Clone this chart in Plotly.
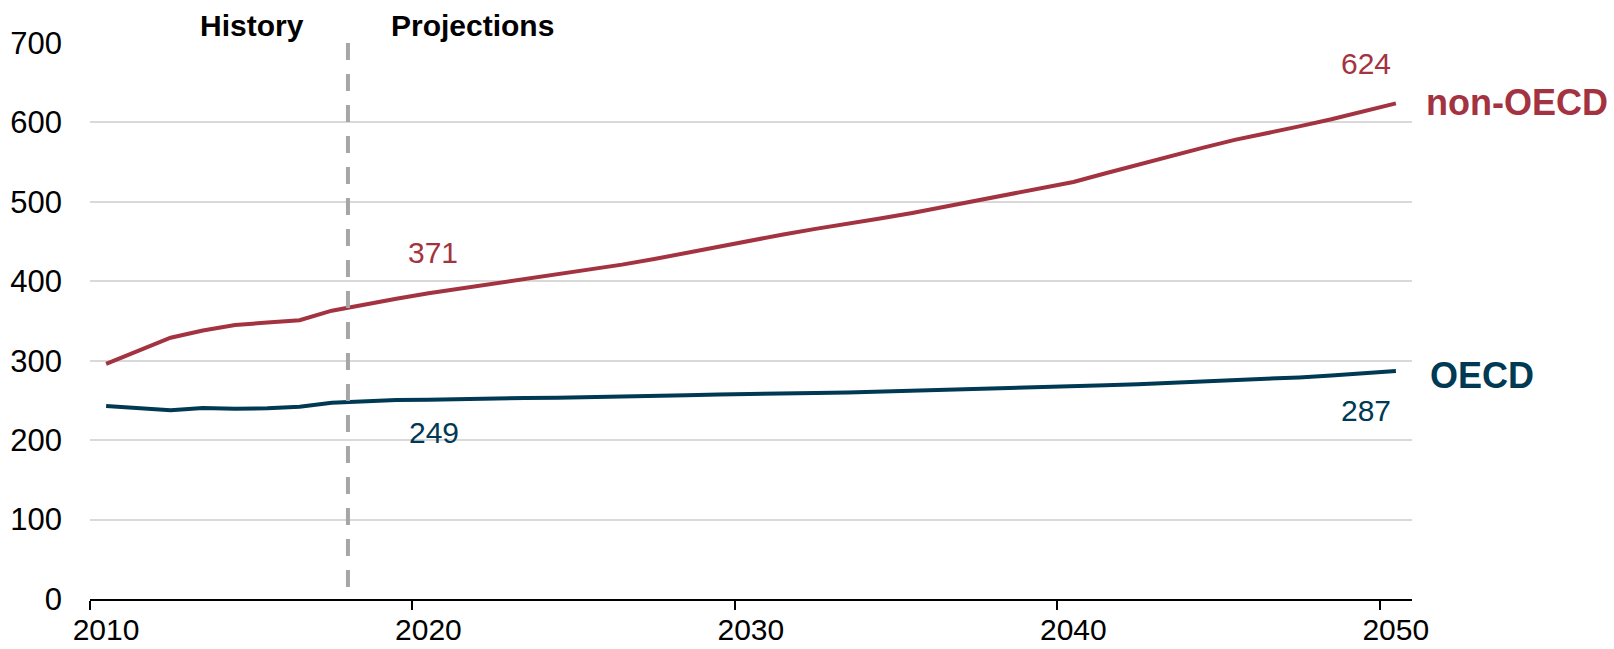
import plotly.graph_objects as go

years = list(range(2010, 2051))
non_oecd = [296, 313, 329, 338, 345, 348, 351, 363, 371, 378,
            385, 391, 397, 402, 408, 414, 421, 428, 436, 444,
            452, 459, 466, 472, 479, 486, 494, 502, 510, 518,
            525, 536, 547, 557, 568, 578, 586, 595, 604, 614,
            624]
oecd = [243, 240, 237.5, 240.5, 239.5, 240, 242, 247, 249, 250.5,
        251, 252, 252.5, 253, 253.5, 254, 254.5, 255.5, 256.5, 257.5,
        258.5, 259, 259.5, 260, 261, 262, 263, 264, 265, 266.5,
        268, 269, 270.5, 272, 273.5, 275, 277, 279, 281.5, 284,
        287]
tick_years = [2010, 2020, 2030, 2040, 2050]
y_ticks = [0, 100, 200, 300, 400, 500, 600, 700]
divider_year = 2017.5
last_history_year = 2018

RED = "#A33340"
BLUE = "#003953"
FONT = "Liberation Sans, Arial, sans-serif"

fig = go.Figure()
fig.add_trace(go.Scatter(x=years, y=non_oecd, mode="lines",
                         line=dict(color=RED, width=4), hoverinfo="skip"))
fig.add_trace(go.Scatter(x=years, y=oecd, mode="lines",
                         line=dict(color=BLUE, width=4), hoverinfo="skip"))

fig.add_shape(type="line", xref="x", yref="y", x0=divider_year, x1=divider_year,
              y0=700, y1=0, line=dict(color="#A6A6A6", width=4, dash="17px,14px"),
              layer="above")

i18 = years.index(last_history_year)
ann = []
ann.append(dict(x=last_history_year, y=non_oecd[i18], text=f"{non_oecd[i18]:.0f}",
                xshift=69, yshift=52, font=dict(color=RED, size=30)))
ann.append(dict(x=last_history_year, y=oecd[i18], text=f"{oecd[i18]:.0f}",
                xshift=70, yshift=-31, font=dict(color=BLUE, size=30)))
ann.append(dict(x=years[-1], y=non_oecd[-1], text=f"{non_oecd[-1]:.0f}",
                xshift=-30, yshift=40, font=dict(color=RED, size=30)))
ann.append(dict(x=years[-1], y=oecd[-1], text=f"{oecd[-1]:.0f}",
                xshift=-30, yshift=-39, font=dict(color=BLUE, size=30)))
ann.append(dict(x=years[-1], y=non_oecd[-1], text="<b>non-OECD</b>", xanchor="left",
                xshift=28, yshift=1, font=dict(color=RED, size=36)))
ann.append(dict(x=years[-1], y=oecd[-1], text="<b>OECD</b>", xanchor="left",
                xshift=32, yshift=-4, font=dict(color=BLUE, size=36)))
for a in ann:
    a.setdefault("xanchor", "center")
    a.update(xref="x", yref="y", yanchor="middle", showarrow=False)
    a["font"]["family"] = FONT
ann.append(dict(x=divider_year, y=1, xref="x", yref="paper", text="<b>History</b>",
                xanchor="right", yanchor="middle", xshift=-42, yshift=18, showarrow=False,
                font=dict(family=FONT, size=30, color="black")))
ann.append(dict(x=divider_year, y=1, xref="x", yref="paper", text="<b>Projections</b>",
                xanchor="left", yanchor="middle", xshift=41, yshift=18, showarrow=False,
                font=dict(family=FONT, size=30, color="black")))

fig.update_layout(
    width=1614, height=649,
    margin=dict(l=90, r=202, t=43, b=50),
    plot_bgcolor="white", paper_bgcolor="white",
    showlegend=False,
    annotations=ann,
    font=dict(family=FONT, color="black"),
    xaxis=dict(range=[years[0] - 0.5, years[-1] + 0.5],
               tickvals=[t - 0.5 for t in tick_years],
               ticktext=[str(t) for t in tick_years],
               ticklabelshift=16, ticklabelstandoff=-6,
               ticks="outside", ticklen=9, tickwidth=2, tickcolor="black",
               showline=True, linecolor="black", linewidth=2,
               showgrid=False, zeroline=False, automargin=False,
               tickfont=dict(family=FONT, size=30, color="black")),
    yaxis=dict(range=[0, 700], tickvals=y_ticks,
               showgrid=True, gridcolor="#D9D9D9", gridwidth=2,
               zeroline=False, showline=False, ticks="",
               ticklabelstandoff=27, automargin=False,
               tickfont=dict(family=FONT, size=31, color="black")),
)

fig.write_html("out.html")
